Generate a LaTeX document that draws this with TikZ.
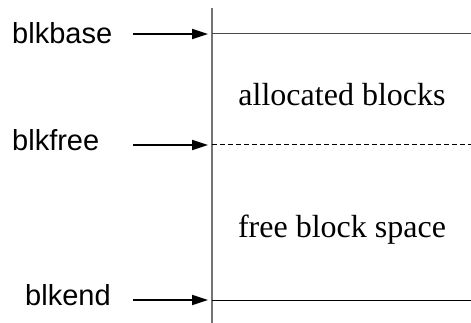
\documentclass[tikz,border=0pt]{standalone}
\usepackage{fontspec}
\setmainfont{Liberation Serif}
\newfontfamily\ptrfont{Liberation Sans}
\usetikzlibrary{arrows.meta,positioning}

\begin{document}
\begin{tikzpicture}[x=1pt,y=-1pt,>={Triangle[length=16pt,width=10pt]}]
\tikzset{
  ptrlabel/.style={inner sep=0pt,anchor=base west,font=\ptrfont\fontsize{29}{30}\selectfont},
  regionlabel/.style={inner sep=0pt,anchor=base,font=\fontsize{32}{34}\selectfont},
  ptr/.style={->,line width=2pt},
  bound/.style={line width=1pt}
}
\useasboundingbox (0,0) rectangle (471,323);
% the block area, one left edge and three bounds
\coordinate (top) at (212,8);
\coordinate (bottom) at (212,323);
\draw[line width=1.8pt,black!55] (top) -- (bottom);
\coordinate (baseL) at (212,34);  \coordinate (baseR) at (471,34);
\coordinate (freeL) at (212,145); \coordinate (freeR) at (471,145);
\coordinate (endL) at (212,300);  \coordinate (endR) at (471,300);
\draw[bound,black!70] (baseL) -- (baseR);
\draw[bound,dash pattern=on 4.5pt off 3.5pt] (freeL) -- (freeR);
\draw[bound] (endL) -- (endR);
% region texts
\node[regionlabel] (alloc) at (342,106) {allocated blocks};
\node[regionlabel] (freespace) at (342,237) {free block space};
% pointers
\node[ptrlabel] (blkbase) at (12,43.5) {blkbase};
\node[ptrlabel] (blkfree) at (12,150.5) {blkfree};
\node[ptrlabel] (blkend) at (25,305.5) {blkend};
\coordinate (baseS) at (133,34);
\coordinate (freeS) at (133,145);
\coordinate (endS) at (133,300);
\draw[ptr] (baseS) -- ([xshift=-4pt]baseL);
\draw[ptr] (freeS) -- ([xshift=-4pt]freeL);
\draw[ptr] (endS) -- ([xshift=-4pt]endL);
\end{tikzpicture}
\end{document}
